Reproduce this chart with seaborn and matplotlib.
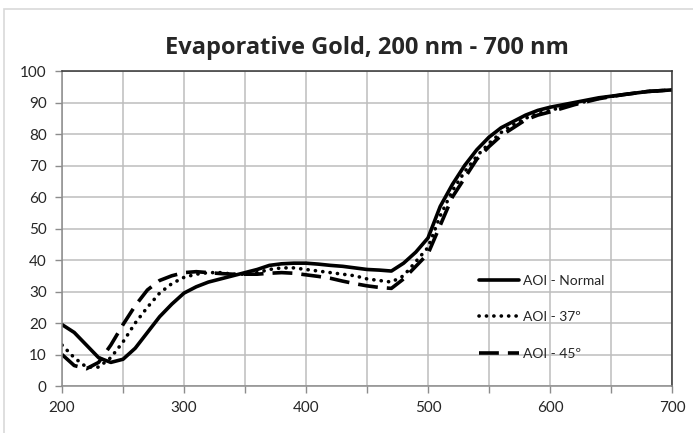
import numpy as np
import pandas as pd
import matplotlib
matplotlib.use("Agg")
import matplotlib.pyplot as plt
from matplotlib.patches import Rectangle
import seaborn as sns

# wavelength grid (nm)
wl = [200, 210, 220, 230, 240, 250, 260, 270, 280, 290, 300, 310, 320, 330,
      340, 350, 360, 370, 380, 390, 400, 410, 420, 430, 440, 450, 460, 470,
      480, 490, 500, 510, 520, 530, 540, 550, 560, 570, 580, 590, 600, 620,
      640, 660, 680, 700]

normal = [19.5, 17, 13, 9, 7.5, 8.5, 12, 17, 22, 26, 29.5, 31.5, 33, 34,
          35, 36, 37, 38.3, 38.8, 39, 39, 38.7, 38.3, 38, 37.5, 37, 36.8, 36.5,
          39, 42.5, 47, 57, 64, 70, 75, 79, 82, 84, 86, 87.5, 88.5, 90,
          91.5, 92.5, 93.5, 94]

aoi37 = [13, 9, 6, 6, 9, 14, 20, 25, 29.5, 32.5, 34.5, 35.5, 36, 36,
         35.5, 35.5, 36, 37, 37.5, 37.5, 37, 36.5, 36, 35.5, 35, 34, 33.5, 33,
         35, 39.5, 44, 54, 62, 68, 73, 77, 80.5, 83, 85, 86.5, 87.5, 89.5,
         91.3, 92.5, 93.5, 94]

aoi45 = [10, 6.5, 5.5, 7.5, 13, 19.5, 25.5, 30.5, 33.5, 35, 36, 36.3, 36, 35.7,
         35.5, 35.5, 35.5, 35.8, 36, 35.8, 35.3, 34.8, 34.2, 33.3, 32.5, 31.8, 31.3, 31,
         34, 38, 42, 51, 60, 66, 72, 76, 79.5, 82, 84.5, 86, 87, 89.3,
         91.2, 92.5, 93.5, 94]

labels = ["AOI - Normal", "AOI - 37\u00ba", "AOI - 45\u00ba"]


def main():
    sns.set_style("white")
    plt.rcParams["font.family"] = ["Lato", "DejaVu Sans"]

    fig = plt.figure(figsize=(6.93, 4.33), dpi=100)
    ax = fig.add_axes([0.0895, 0.1085, 0.8802, 0.7275])

    # light chart-area frame
    fig.patches.append(Rectangle((0.006, -0.01), 1.0, 0.99, transform=fig.transFigure,
                                 fill=False, edgecolor="#d9d9d9", linewidth=1.2))

    styles = ["-", (0, (0.05, 2.0)), (0, (5.5, 2.5))]
    caps = ["butt", "round", "butt"]
    for vals, lab, ls, cap in zip([normal, aoi37, aoi45], labels, styles, caps):
        df = pd.DataFrame({"wl": wl, "R": vals})
        sns.lineplot(data=df, x="wl", y="R", ax=ax, color="black", linewidth=2.6,
                     linestyle=ls, label=lab, dash_capstyle=cap)

    ax.set_xlim(200, 700)
    ax.set_ylim(0, 100)
    ax.set_xticks(np.arange(200, 701, 100))
    ax.set_xticks(np.arange(200, 701, 50), minor=True)
    ax.set_yticks(np.arange(0, 101, 10))
    ax.grid(True, which="both", color="#bdbdbd", linewidth=1.1)
    ax.set_axisbelow(True)
    ax.set_xlabel("")
    ax.set_ylabel("")

    for side in ["left", "bottom"]:
        ax.spines[side].set_color("#8c8c8c")
        ax.spines[side].set_linewidth(1.1)
    for side in ["top", "right"]:
        ax.spines[side].set_color("#333333")
        ax.spines[side].set_linewidth(1.1)

    ax.tick_params(axis="both", which="major", length=5, width=1, color="#8c8c8c",
                   labelsize=11, direction="out", left=True, bottom=True, pad=6)
    ax.tick_params(axis="x", which="minor", length=5, width=1, color="#8c8c8c",
                   direction="out", bottom=True)

    ax.set_title("Evaporative Gold, 200 nm - 700 nm", fontsize=17, fontweight="bold",
                 family=["Open Sans", "DejaVu Sans"], pad=12)

    ax.legend(loc="center left", bbox_to_anchor=(0.663, 0.218), frameon=False,
              fontsize=10, labelspacing=1.75, handlelength=2.9, handletextpad=0.3)

    fig.savefig("out.png", dpi=100)


if __name__ == "__main__":
    main()
